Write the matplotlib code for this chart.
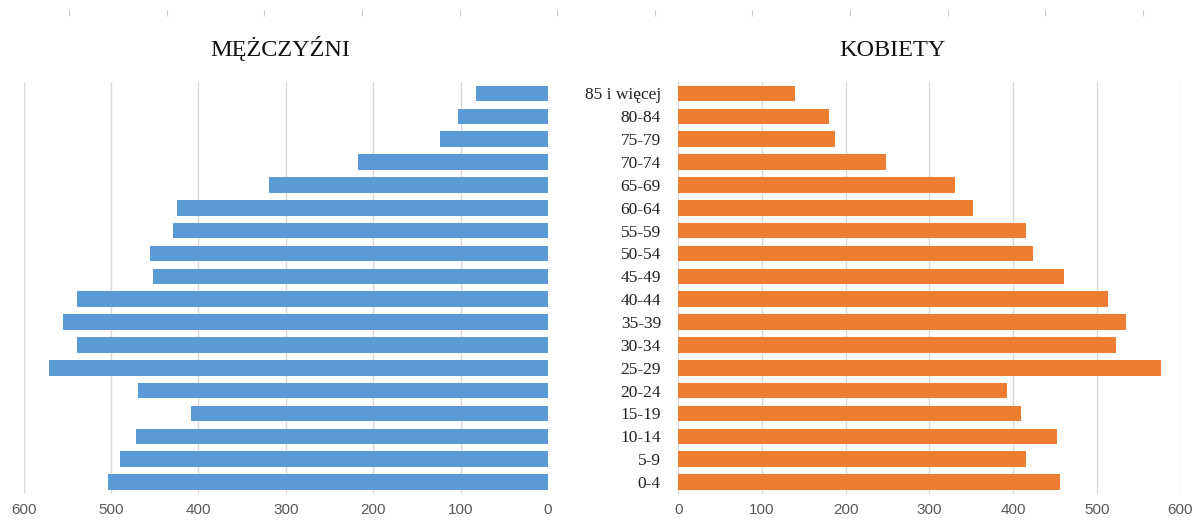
import matplotlib
matplotlib.use("Agg")

import matplotlib.pyplot as plt
import numpy as np

# grupy wieku, od najmłodszej
grupy = ["0-4", "5-9", "10-14", "15-19", "20-24", "25-29", "30-34", "35-39",
         "40-44", "45-49", "50-54", "55-59", "60-64", "65-69", "70-74",
         "75-79", "80-84", "85 i więcej"]
mezczyzni = [504, 490, 472, 408, 469, 571, 539, 555, 539,
             452, 455, 429, 425, 319, 217, 124, 103, 82]
kobiety = [456, 415, 452, 409, 393, 577, 523, 535, 513,
           461, 424, 415, 352, 331, 248, 187, 180, 139]
ticks_x = [0, 100, 200, 300, 400, 500, 600]

NIEBIESKI = "#5B9BD5"
POMARANCZ = "#ED7D31"
SIATKA = "#D9D9D9"

W, H = 1195, 524
fig = plt.figure(figsize=(W / 100, H / 100), dpi=100)

y = np.arange(len(grupy))
dol = 1 - 493.5 / H
wys = (493.5 - 82) / H

ax_m = fig.add_axes([23.7 / W, dol, (548 - 23.7) / W, wys])
ax_k = fig.add_axes([678.3 / W, dol, (1180.5 - 678.3) / W, wys])

ax_m.barh(y, mezczyzni, height=0.68, color=NIEBIESKI, zorder=3)
ax_k.barh(y, kobiety, height=0.68, color=POMARANCZ, zorder=3)

for ax in (ax_m, ax_k):
    ax.set_ylim(-0.5, len(grupy) - 0.5)
    ax.set_xlim(0, 600)
    ax.set_xticks(ticks_x)
    ax.xaxis.grid(True, color=SIATKA, linewidth=1, zorder=0)
    for s in ax.spines.values():
        s.set_visible(False)
    ax.tick_params(axis="x", length=0, pad=7, labelsize=11, labelcolor="#595959")
    for lab in ax.get_xticklabels():
        lab.set_family("Liberation Sans")
    ax.tick_params(axis="y", length=0)

ax_m.invert_xaxis()
ax_m.set_yticks([])

ax_k.set_yticks(y)
ax_k.set_yticklabels(grupy, family="Liberation Serif", fontsize=12.5, color="#222222")
ax_k.tick_params(axis="y", pad=12.5)

fig.text(280 / W, 1 - 56 / H, "MĘŻCZYŹNI", family="Liberation Serif",
         fontsize=17.5, ha="center", va="baseline", color="#111111")
fig.text(892 / W, 1 - 56 / H, "KOBIETY", family="Liberation Serif",
         fontsize=17.5, ha="center", va="baseline", color="#111111")

# drobne kreski u góry (resztka osi z wykresu powyżej)
ax_top = fig.add_axes([69 / W, 1 - 10 / H, (1143 - 69) / W, 0.001])
ax_top.set_xlim(0, 11)
ax_top.set_xticks(range(12))
ax_top.set_xticklabels([])
ax_top.set_yticks([])
ax_top.tick_params(axis="x", length=4, width=0.8, color="#C8C8C8", direction="out")
for s in ax_top.spines.values():
    s.set_visible(False)
ax_top.patch.set_visible(False)

fig.savefig("out.png", dpi=100)
